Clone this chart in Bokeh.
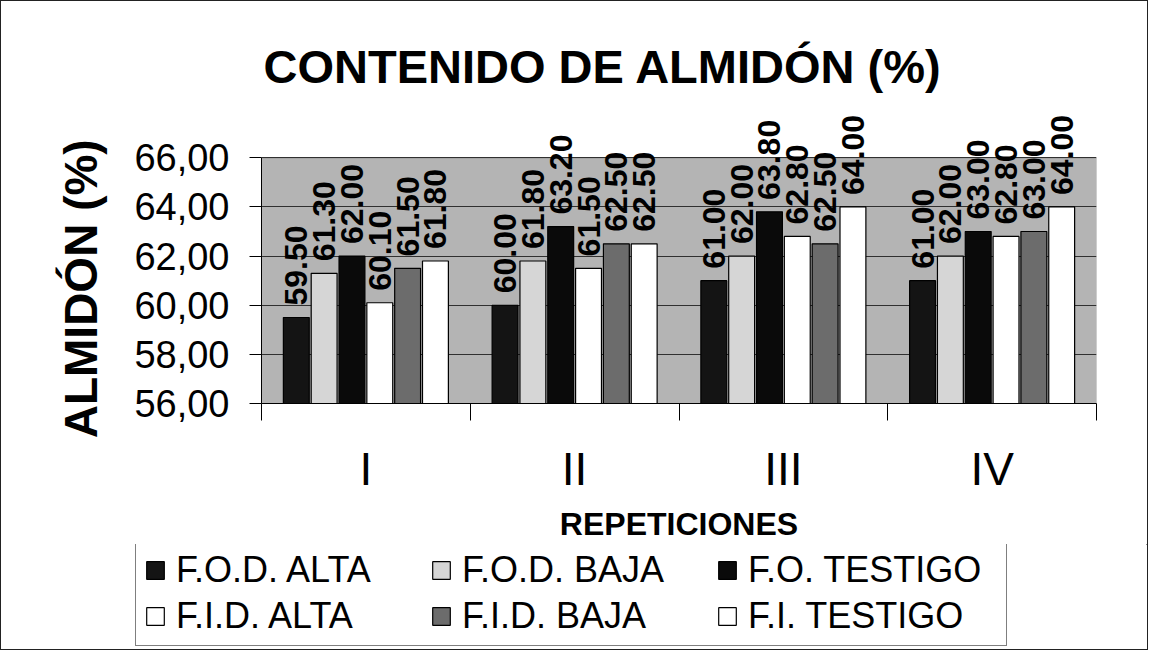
import numpy as np
from bokeh.plotting import figure
from bokeh.layouts import column, row
from bokeh.models import (ColumnDataSource, Range1d, BoxAnnotation, Label,
                          FixedTicker, CustomJSTickFormatter, LabelSet, Legend, LegendItem)
from bokeh.transform import dodge
from bokeh.core.properties import value
from bokeh.embed import file_html
from bokeh.resources import INLINE

categories = ["I", "II", "III", "IV"]
series_names = ["F.O.D. ALTA", "F.O.D. BAJA", "F.O. TESTIGO", "F.I.D. ALTA", "F.I.D. BAJA", "F.I. TESTIGO"]
fod_alta = [59.50, 60.00, 61.00, 61.00]
fod_baja = [61.30, 61.80, 62.00, 62.00]
fo_testigo = [62.00, 63.20, 63.80, 63.00]
fid_alta = [60.10, 61.50, 62.80, 62.80]
fid_baja = [61.50, 62.50, 62.50, 63.00]
fi_testigo = [61.80, 62.50, 64.00, 64.00]
y_ticks = [56, 58, 60, 62, 64, 66]

series_values = [fod_alta, fod_baja, fo_testigo, fid_alta, fid_baja, fi_testigo]
fills = ["#141414", "#d6d6d6", "#0a0a0a", "#ffffff", "#6c6c6c", "#ffffff"]

FONT = "Liberation Sans"
W = 1146

ncat = len(categories)
centers = [i + 0.5 for i in range(ncat)]
y_lo, y_hi = y_ticks[0], y_ticks[-1]

p = figure(width=W, height=543, x_range=Range1d(0, ncat),
           y_range=Range1d(y_lo, 71.06),
           output_backend="svg", toolbar_location=None,
           min_border_left=260, min_border_right=51, min_border_top=32, min_border_bottom=140)
p.background_fill_color = "white"
p.border_fill_color = "white"
p.outline_line_color = None

# shaded plot area (56..66)
p.add_layout(BoxAnnotation(bottom=y_lo, top=y_hi, fill_color="#b4b4b4", fill_alpha=1.0,
                           line_color="#222222", line_width=1, level="image"))
p.xgrid.grid_line_color = None
p.ygrid.grid_line_color = "#303030"
p.ygrid.grid_line_width = 1
p.ygrid.ticker = FixedTicker(ticks=y_ticks)

# title
p.add_layout(Label(x=2, y=337, x_units="screen", y_units="screen", text="CONTENIDO DE ALMIDÓN (%)",
                   text_align="left", text_baseline="middle", text_font=FONT, text_font_style="bold",
                   text_font_size="47px", text_color="black"))

# y axis
ya = p.yaxis[0]
ya.bounds = (y_lo, y_hi)
ya.ticker = FixedTicker(ticks=y_ticks)
ya.formatter = CustomJSTickFormatter(code="return tick.toFixed(2).replace('.', ',');")
ya.major_label_text_font = FONT
ya.major_label_text_font_size = "38px"
ya.major_label_text_color = "black"
ya.major_label_standoff = 20
ya.major_tick_out = 12
ya.major_tick_in = 0
ya.minor_tick_out = 0
ya.minor_tick_in = 0
ya.axis_line_color = "black"
ya.major_tick_line_color = "black"
# trailing no-break spaces push the centred label down beside the shaded area
ya.axis_label = "ALMIDÓN (%)" + "\u00a0" * 11
ya.axis_label_text_font = FONT
ya.axis_label_text_font_style = "bold"
ya.axis_label_text_font_size = "46px"
ya.axis_label_text_color = "black"
ya.axis_label_standoff = 24

# x axis: labels at category centres, ticks at category boundaries
xa = p.xaxis[0]
xa.ticker = FixedTicker(ticks=centers, minor_ticks=list(range(ncat + 1)))
xa.major_label_overrides = {c: lab for c, lab in zip(centers, categories)}
xa.axis_line_color = "black"
xa.major_tick_line_color = None
xa.major_tick_out = 0
xa.major_tick_in = 0
xa.minor_tick_line_color = "black"
xa.minor_tick_out = 17
xa.minor_tick_in = 0
xa.major_label_text_font = FONT
xa.major_label_text_font_size = "46px"
xa.major_label_text_color = "black"
xa.major_label_standoff = 22
xa.axis_label = "REPETICIONES"
xa.axis_label_text_font = FONT
xa.axis_label_text_font_style = "bold"
xa.axis_label_text_font_size = "32px"
xa.axis_label_text_color = "black"
xa.axis_label_standoff = 8

n = len(series_names)
step = 0.1333
offsets = [(i - (n - 1) / 2) * step for i in range(n)]

for name, vals, col, off in zip(series_names, series_values, fills, offsets):
    src = ColumnDataSource(dict(xc=centers, val=vals, txt=[f"{v:.2f}" for v in vals]))
    p.vbar(x=dodge("xc", off), top="val", bottom=y_lo, width=step * 0.93,
           source=src, fill_color=col, line_color="black", line_width=1.2)
    p.add_layout(LabelSet(x=dodge("xc", off), y="val", text="txt", source=src,
                          angle=np.pi / 2, text_align="left", text_baseline="middle", y_offset=12,
                          text_font=value(FONT), text_font_style="bold", text_font_size="32px",
                          text_color="black"))

# legend panel (own figure so that the box may start left of the plot area)
p2 = figure(width=W, height=105, x_range=Range1d(0, 1), y_range=Range1d(0, 1),
            x_axis_location=None, y_axis_location=None,
            output_backend="svg", toolbar_location=None,
            min_border_left=0, min_border_right=0, min_border_top=0, min_border_bottom=0)
p2.grid.grid_line_color = None
p2.outline_line_color = None
p2.background_fill_color = "white"
p2.border_fill_color = "white"
items = []
for name, vals, col in zip(series_names, series_values, fills):
    # zero-height proxies lying outside p2's range: only their legend swatches show
    r = p2.vbar(x=centers, bottom=vals, top=vals, width=0.1, fill_color=col,
                line_color="black", line_width=1.2)
    items.append(LegendItem(label=name, renderers=[r]))
legend = Legend(items=items, ncols=3, orientation="horizontal", location=(134, 3),
                label_text_font=FONT, label_text_font_size="36px", label_text_color="black",
                glyph_width=22, glyph_height=22, label_standoff=10, label_width=250, label_height=40,
                spacing=4, padding=8, margin=0, border_line_color="black", border_line_width=1.2,
                background_fill_color="white", background_fill_alpha=1.0)
p2.add_layout(legend, "center")

layout = column(p, row(p2), spacing=0, styles={"border": "1px solid #222"})
open("out.html", "w").write(file_html(layout, INLINE))
